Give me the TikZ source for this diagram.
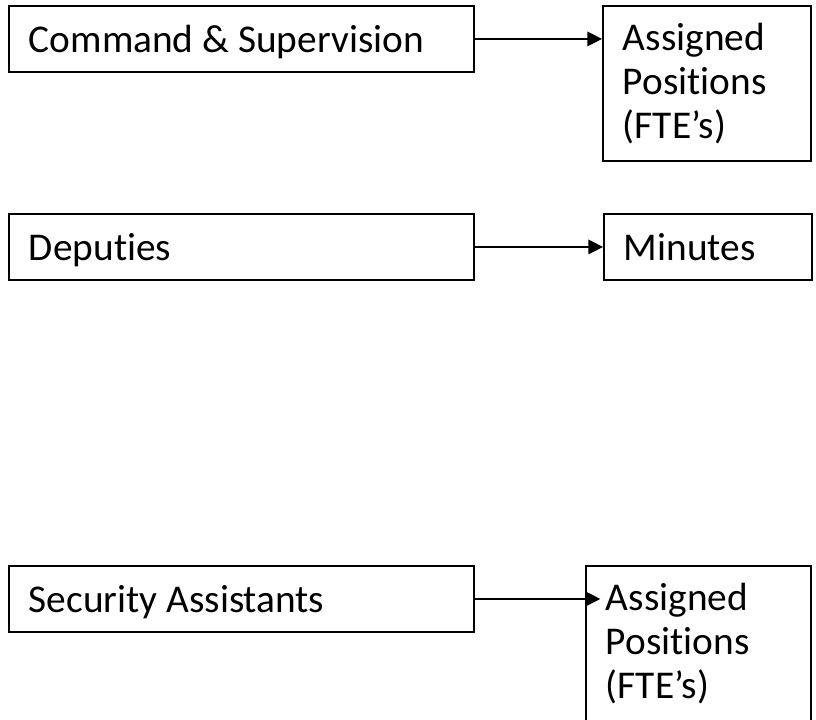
\documentclass[tikz,border=0pt]{standalone}
\usepackage{fontspec}
\setmainfont[Ligatures=NoCommon]{Carlito}
\usetikzlibrary{arrows.meta}
\tikzset{box/.style={draw,line width=1.4pt,anchor=north west,align=flush left,inner xsep=15pt,inner ysep=0pt,font=\fontsize{29.5}{33}\selectfont},
  wide/.style={box,text depth=0pt,text width=318.75pt,minimum height=49.5pt},
  narrow/.style={box,text width=126pt,minimum height=116.25pt}}

\begin{document}
\begin{tikzpicture}[>={Triangle[length=11pt,width=11pt]},x=0.75pt,y=-0.75pt]
        \useasboundingbox (0,0) rectangle (816,719);
        \clip (0,0) rectangle (816,719);

        \node[wide] (cmd) at (8,5) {Command \& Supervision};
        \node[narrow] (pos1) at (602,5) {Assigned\\Positions\\(FTE’s)};

        \node[wide] (dep) at (8,213) {Deputies};
        \node[box,text depth=0pt,text width=126pt,minimum height=49.5pt] (min) at (603,213) {Minutes};

        \node[wide] (sec) at (8,565) {Security Assistants};
        \node[narrow,text width=138.75pt] (pos2) at (585,565) {Assigned\\Positions\\(FTE’s)};
        \coordinate (tip) at ([xshift=11.5pt]sec.east -| pos2.west);

        \draw [->,line width=1pt] (cmd) -- (pos1.west |- cmd);
        \draw [->,line width=1pt] (dep) -- (min);
        \draw [->,line width=1pt] (sec) -- (tip);
    \end{tikzpicture}
\end{document}
